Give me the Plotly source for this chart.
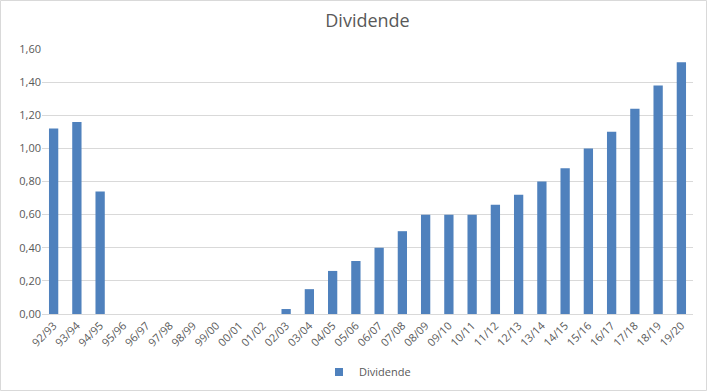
import plotly.graph_objects as go

categories = ["92/93", "93/94", "94/95", "95/96", "96/97", "97/98", "98/99", "99/00",
              "00/01", "01/02", "02/03", "03/04", "04/05", "05/06", "06/07", "07/08",
              "08/09", "09/10", "10/11", "11/12", "12/13", "13/14", "14/15", "15/16",
              "16/17", "17/18", "18/19", "19/20"]
dividende = [1.12, 1.16, 0.74, 0, 0, 0, 0, 0,
             0, 0, 0.03, 0.15, 0.26, 0.32, 0.40, 0.50,
             0.60, 0.60, 0.60, 0.66, 0.72, 0.80, 0.88, 1.00,
             1.10, 1.24, 1.38, 1.52]
y_ticks = [0, 0.2, 0.4, 0.6, 0.8, 1.0, 1.2, 1.4, 1.6]

W, H = 708, 392
ml, mr, mt, mb = 42, 15, 49, 78
pw, ph = W - ml - mr, H - mt - mb
BAR_COLOR = "#4f81bd"

fig = go.Figure()
fig.add_trace(go.Bar(
    x=categories, y=dividende, name="Dividende",
    marker=dict(color=BAR_COLOR, line=dict(width=0)),
    showlegend=False,
))
# legend entry with a small square key, as in the reference
fig.add_trace(go.Scatter(
    x=[None], y=[None], mode="markers", name="Dividende",
    marker=dict(symbol="square", size=8, color=BAR_COLOR),
    showlegend=True, hoverinfo="skip",
))

fig.update_layout(
    width=W, height=H,
    margin=dict(l=ml, r=mr, t=mt, b=mb, autoexpand=False),
    paper_bgcolor="white", plot_bgcolor="white",
    separators=",.",
    font=dict(family="Open Sans, Liberation Sans, sans-serif", color="#595959", size=11),
    title=dict(text="Dividende", x=0.5, xanchor="center", xref="paper",
               yref="container", y=1 - 21 / H, yanchor="middle",
               font=dict(size=18, color="#595959")),
    bargap=0.6,
    xaxis=dict(
        type="category", tickangle=-45, showgrid=False, automargin=False,
        showline=True, linecolor="#d9d9d9", linewidth=1,
        ticks="", tickfont=dict(size=11, color="#595959"),
    ),
    yaxis=dict(
        range=[0, 1.6], tickvals=y_ticks, tickformat=".2f", automargin=False,
        showgrid=True, gridcolor="#d9d9d9", gridwidth=1,
        zeroline=False, showline=False, ticks="",
        tickfont=dict(size=11, color="#595959"),
    ),
    legend=dict(orientation="h", x=0.5, xanchor="center",
                y=-(372 - (H - mb)) / ph, yanchor="middle",
                itemwidth=30,
                font=dict(size=11, color="#595959")),
    shapes=[dict(type="rect", xref="paper", yref="paper",
                 x0=-(ml - 0.5) / pw, x1=1 + (mr - 1.5) / pw,
                 y0=-(mb - 1.5) / ph, y1=1 + (mt - 0.5) / ph,
                 line=dict(color="#d9d9d9", width=1))],
)

fig.write_html("out.html",
               config={"displayModeBar": False},
               post_script="document.body.style.margin='0';document.body.style.overflow='hidden';")
